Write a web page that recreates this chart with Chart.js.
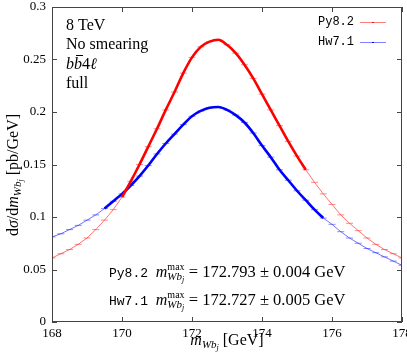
<!DOCTYPE html>
<html>
<head>
<meta charset="utf-8">
<script src="https://cdn.jsdelivr.net/npm/chart.js@4"></script>
<style>
  html, body { margin: 0; padding: 0; background: #fff; }
  canvas { display: block; }
</style>
</head>
<body>
<canvas id="chartMass" width="407" height="356"></canvas>
<script>
// bin centres (GeV) and distributions
const binCenters = [168.00, 168.25, 168.50, 168.75, 169.00, 169.25, 169.50, 169.75,
                    170.00, 170.25, 170.50, 170.75, 171.00, 171.25, 171.50, 171.75,
                    172.00, 172.25, 172.50, 172.75, 173.00, 173.25, 173.50, 173.75,
                    174.00, 174.25, 174.50, 174.75, 175.00, 175.25, 175.50, 175.75,
                    176.00, 176.25, 176.50, 176.75, 177.00, 177.25, 177.50, 177.75, 178.00];
const py82 = [0.061, 0.065, 0.069, 0.074, 0.080, 0.088, 0.097, 0.107,
              0.119, 0.134, 0.150, 0.167, 0.184, 0.202, 0.219, 0.237,
              0.252, 0.262, 0.267, 0.2688, 0.264, 0.256, 0.245, 0.232,
              0.217, 0.202, 0.187, 0.172, 0.158, 0.145, 0.133, 0.122,
              0.112, 0.102, 0.094, 0.087, 0.080, 0.074, 0.069, 0.065, 0.061];
const hw71 = [0.081, 0.084, 0.088, 0.092, 0.097, 0.102, 0.108, 0.115,
              0.122, 0.130, 0.139, 0.149, 0.160, 0.170, 0.179, 0.188,
              0.196, 0.201, 0.204, 0.2047, 0.202, 0.197, 0.190, 0.180,
              0.168, 0.157, 0.145, 0.135, 0.125, 0.116, 0.107, 0.099,
              0.093, 0.086, 0.080, 0.075, 0.070, 0.066, 0.062, 0.058, 0.054];
// fit windows (thick curves)
const py82FitRange = [170.0, 175.25];
const hw71FitRange = [169.5, 175.75];

const xTicks = [168, 170, 172, 174, 176, 178];
const yTicks = [0, 0.05, 0.1, 0.15, 0.2, 0.25, 0.3];

const SERIF = '"Liberation Serif", "DejaVu Serif", serif';
const MONO  = '"Liberation Mono", "DejaVu Sans Mono", monospace';

function pts(ys) { return binCenters.map((x, i) => ({ x: x, y: ys[i] })); }
function fitPts(ys, r) { return pts(ys).filter(p => p.x >= r[0] - 1e-9 && p.x <= r[1] + 1e-9); }

// rich text helpers (sub/superscripts)
function partW(ctx, p) {
  if (p.stack) return Math.max(runW(ctx, p.sup), runW(ctx, p.sub));
  ctx.font = p.f; return ctx.measureText(p.t).width;
}
function runW(ctx, parts) { return parts.reduce((s, p) => s + partW(ctx, p), 0); }
function drawRun(ctx, parts, x, y) {
  parts.forEach(p => {
    if (p.stack) {
      drawRun(ctx, p.sup, x, y); drawRun(ctx, p.sub, x, y);
    } else {
      ctx.font = p.f;
      ctx.fillText(p.t, x, y + (p.dy || 0));
      if (p.bar) {
        const w = ctx.measureText(p.t).width;
        ctx.fillRect(x + 2, y - 14, w - 1, 1);
      }
    }
    x += partW(ctx, p);
  });
}
const subWbj = [
  { t: 'W', f: 'italic 11px ' + SERIF, dy: 3 },
  { t: 'b', f: 'italic 11px ' + SERIF, dy: 3 },
  { t: 'j', f: 'italic 8px ' + SERIF, dy: 5 }
];
const mMax = [
  { t: 'm', f: 'italic 16px ' + SERIF },
  { stack: true, sup: [{ t: 'max', f: '10px ' + SERIF, dy: -7 }], sub: subWbj }
];

const decor = {
  id: 'decor',
  afterDraw(chart) {
    const ctx = chart.ctx, a = chart.chartArea;
    const sx = chart.scales.x, sy = chart.scales.y;
    ctx.save();
    // frame + inward ticks
    ctx.strokeStyle = '#444'; ctx.lineWidth = 1;
    ctx.strokeRect(a.left + 0.5, a.top + 0.5, a.right - a.left - 1, a.bottom - a.top - 1);
    ctx.beginPath();
    xTicks.forEach(v => {
      const px = Math.round(sx.getPixelForValue(v)) + 0.5;
      ctx.moveTo(px, a.bottom); ctx.lineTo(px, a.bottom - 5);
      ctx.moveTo(px, a.top); ctx.lineTo(px, a.top + 5);
    });
    yTicks.forEach(v => {
      const py = Math.round(sy.getPixelForValue(v)) + 0.5;
      ctx.moveTo(a.left, py); ctx.lineTo(a.left + 5, py);
      ctx.moveTo(a.right, py); ctx.lineTo(a.right - 5, py);
    });
    ctx.stroke();

    ctx.fillStyle = '#000';
    ctx.textAlign = 'left'; ctx.textBaseline = 'alphabetic';
    // labels top-left
    ctx.font = '16px ' + SERIF;
    ctx.fillText('8 TeV', 66, 30);
    ctx.fillText('No smearing', 66, 49);
    drawRun(ctx, [
      { t: 'b', f: 'italic 16px ' + SERIF },
      { t: 'b', f: 'italic 16px ' + SERIF, bar: true },
      { t: '4', f: '16px ' + SERIF },
      { t: 'ℓ', f: 'italic 16px ' + SERIF }
    ], 66, 69);
    ctx.font = '16px ' + SERIF;
    ctx.fillText('full', 66, 88);

    // legend top-right
    const leg = [['Py8.2', 'rgba(255,0,0,0.5)', '#f00', 25, 22], ['Hw7.1', 'rgba(0,0,255,0.5)', '#00f', 45, 42]];
    leg.forEach(l => {
      ctx.font = '12px ' + MONO; ctx.textAlign = 'right';
      ctx.fillText(l[0], 354, l[3]);
      ctx.strokeStyle = l[1]; ctx.lineWidth = 1;
      ctx.beginPath(); ctx.moveTo(360, l[4] + 0.5); ctx.lineTo(386, l[4] + 0.5); ctx.stroke();
      ctx.fillStyle = l[2]; ctx.fillRect(372, l[4], 2, 1);
      ctx.fillStyle = '#000';
    });
    ctx.textAlign = 'left';

    // peak positions
    drawRun(ctx, [{ t: 'Py8.2 ', f: '13px ' + MONO }].concat(mMax,
      [{ t: ' = 172.793 ± 0.004 GeV', f: '16.5px ' + SERIF }]), 109, 277);
    drawRun(ctx, [{ t: 'Hw7.1 ', f: '13px ' + MONO }].concat(mMax,
      [{ t: ' = 172.727 ± 0.005 GeV', f: '16.5px ' + SERIF }]), 109, 305);

    // x title
    const xt = [{ t: 'm', f: 'italic 16px ' + SERIF }].concat(subWbj, [{ t: ' [GeV]', f: '16px ' + SERIF }]);
    drawRun(ctx, xt, (a.left + a.right) / 2 - runW(ctx, xt) / 2, 345);

    // y title
    const yt = [
      { t: 'd', f: '16px ' + SERIF }, { t: 'σ', f: 'italic 16px ' + SERIF },
      { t: '/d', f: '16px ' + SERIF }, { t: 'm', f: 'italic 16px ' + SERIF }
    ].concat(subWbj, [{ t: ' [pb/GeV]', f: '16px ' + SERIF }]);
    ctx.translate(18, 175); ctx.rotate(-Math.PI / 2);
    drawRun(ctx, yt, -runW(ctx, yt) / 2, 0);
    ctx.restore();
  }
};

new Chart(document.getElementById('chartMass'), {
  type: 'line',
  data: {
    datasets: [
      { label: 'Py8.2 fit', data: fitPts(py82, py82FitRange), borderColor: '#ff0000', borderWidth: 2.6,
        pointRadius: 0, cubicInterpolationMode: 'monotone', fill: false },
      { label: 'Hw7.1 fit', data: fitPts(hw71, hw71FitRange), borderColor: '#0000ff', borderWidth: 2.6,
        pointRadius: 0, cubicInterpolationMode: 'monotone', fill: false },
      { label: 'Py8.2', data: pts(py82), borderColor: 'rgba(255,0,0,0.55)', borderWidth: 1,
        pointStyle: 'line', pointRadius: 3.5, pointBorderColor: 'rgba(255,0,0,0.45)', pointBorderWidth: 1,
        tension: 0, fill: false },
      { label: 'Hw7.1', data: pts(hw71), borderColor: 'rgba(0,0,255,0.55)', borderWidth: 1,
        pointStyle: 'line', pointRadius: 3.5, pointBorderColor: 'rgba(0,0,255,0.45)', pointBorderWidth: 1,
        tension: 0, fill: false }
    ]
  },
  options: {
    responsive: false,
    devicePixelRatio: 1,
    animation: false,
    layout: { padding: { top: 7, right: 2, left: 0, bottom: 0 } },
    plugins: { legend: { display: false }, tooltip: { enabled: false } },
    scales: {
      x: {
        type: 'linear', min: 168, max: 178,
        afterBuildTicks: s => { s.ticks = xTicks.map(v => ({ value: v })); },
        afterFit: s => { s.height = 34; s.paddingLeft = 0; s.paddingRight = 0; },
        grid: { display: false, drawTicks: false }, border: { display: false },
        ticks: { padding: 4, color: '#000', font: { family: SERIF, size: 13 }, maxRotation: 0 }
      },
      y: {
        min: 0, max: 0.3,
        afterBuildTicks: s => { s.ticks = yTicks.map(v => ({ value: v })); },
        afterFit: s => { s.width = 52; s.paddingTop = 0; s.paddingBottom = 0; },
        grid: { display: false, drawTicks: false }, border: { display: false },
        ticks: { padding: 6, color: '#000', font: { family: SERIF, size: 13 },
                 callback: v => String(Number(v.toFixed(2))) }
      }
    }
  },
  plugins: [decor]
});
</script>
</body>
</html>
